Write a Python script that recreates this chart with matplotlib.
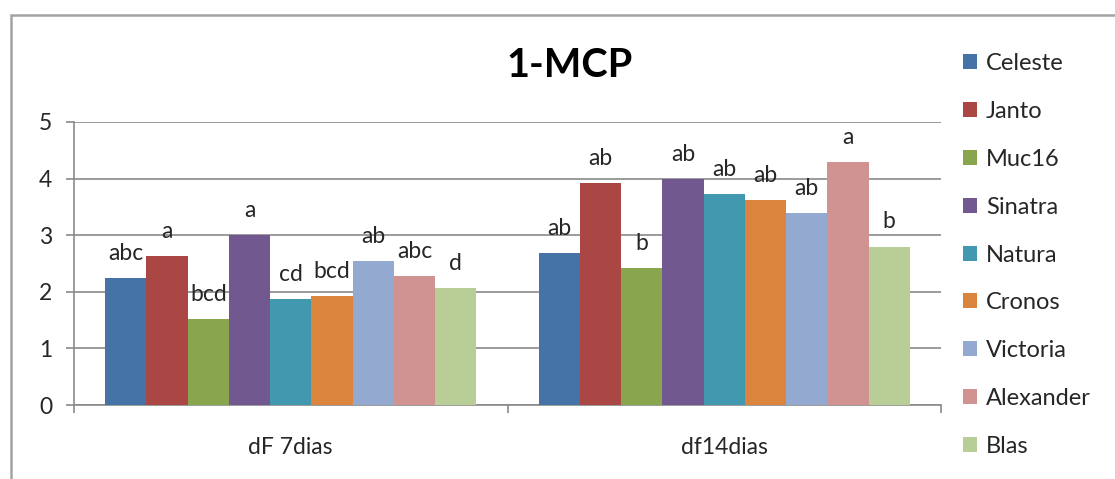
import matplotlib
matplotlib.use("Agg")
import matplotlib.pyplot as plt
from matplotlib.patches import Rectangle, Patch
import numpy as np

plt.rcParams["font.family"] = ["Lato", "DejaVu Sans"]

# Data: firmness change per variety after 1-MCP treatment
categories = ["dF 7dias", "df14dias"]
varieties = ["Celeste", "Janto", "Muc16", "Sinatra", "Natura",
             "Cronos", "Victoria", "Alexander", "Blas"]
values_7d = [2.25, 2.64, 1.52, 3.00, 1.87, 1.92, 2.55, 2.28, 2.06]
values_14d = [2.68, 3.92, 2.42, 3.99, 3.72, 3.62, 3.40, 4.29, 2.80]
letters_7d = ["abc", "a", "bcd", "a", "cd", "bcd", "ab", "abc", "d"]
letters_14d = ["ab", "ab", "b", "ab", "ab", "ab", "ab", "a", "b"]
colors = ["#4572A7", "#AA4643", "#89A54E", "#71588F", "#4198AF",
          "#DB843D", "#93A9CF", "#D19392", "#B9CD96"]

W, H = 1115, 479
fig = plt.figure(figsize=(W / 100, H / 100), dpi=100)
fig.patch.set_facecolor("white")

# chart frame
fig.add_artist(Rectangle((11 / W, -0.2), 1.5, 1.2 - 15 / H,
                         transform=fig.transFigure, fill=False,
                         edgecolor="#a3a3a3", linewidth=1.8, clip_on=False))

ax = fig.add_axes([74 / W, 1 - 405 / H, 867 / W, 283 / H])

grid_col = "#8a8a8a"
text_col = "#262626"
fs = 16.5
n = len(varieties)
group_w = 0.856
bw = group_w / n
x = np.arange(len(categories))

for i, name in enumerate(varieties):
    vals = [values_7d[i], values_14d[i]]
    labs = [letters_7d[i], letters_14d[i]]
    pos = x - group_w / 2 + bw * (i + 0.5)
    ax.bar(pos, vals, width=bw, color=colors[i], linewidth=0, zorder=3)
    for px_, v, lab in zip(pos, vals, labs):
        ax.annotate(lab, (px_, v), xytext=(0, 13), textcoords="offset points",
                    ha="center", va="baseline", fontsize=fs, color=text_col,
                    zorder=4)

ax.set_xlim(-0.5, 1.5)
ax.set_ylim(0, 5)
ax.set_yticks(range(6))
ax.yaxis.grid(True, color=grid_col, linewidth=1.2, zorder=0)
ax.set_axisbelow(True)

ax.set_xticks(x)
ax.set_xticklabels(categories)
ax.set_xticks([-0.5, 0.5, 1.5], minor=True)
ax.tick_params(axis="x", which="major", length=0, pad=23,
               labelsize=fs, labelcolor=text_col)
ax.tick_params(axis="x", which="minor", length=5.8, width=1.2,
               color=grid_col, direction="out")
ax.tick_params(axis="y", length=5.8, width=1.2, color=grid_col,
               pad=10, labelsize=fs, labelcolor=text_col)

for s in ["top", "right"]:
    ax.spines[s].set_visible(False)
for s in ["left", "bottom"]:
    ax.spines[s].set_color(grid_col)
    ax.spines[s].set_linewidth(1.2)

fig.text(570 / W, 1 - 76.7 / H, "1-MCP", ha="center", va="baseline",
         fontsize=28.5, fontweight="bold", color="black")

handles = [Patch(facecolor=c, edgecolor="none") for c in colors]
fig.legend(handles, varieties, loc="center left",
           bbox_to_anchor=(963 / W, 1 - 255 / H), frameon=False,
           fontsize=17, labelcolor=text_col, handlelength=0.6,
           handleheight=0.6, handletextpad=0.38, labelspacing=1.135,
           borderpad=0, borderaxespad=0)

fig.savefig("out.png", dpi=100)
